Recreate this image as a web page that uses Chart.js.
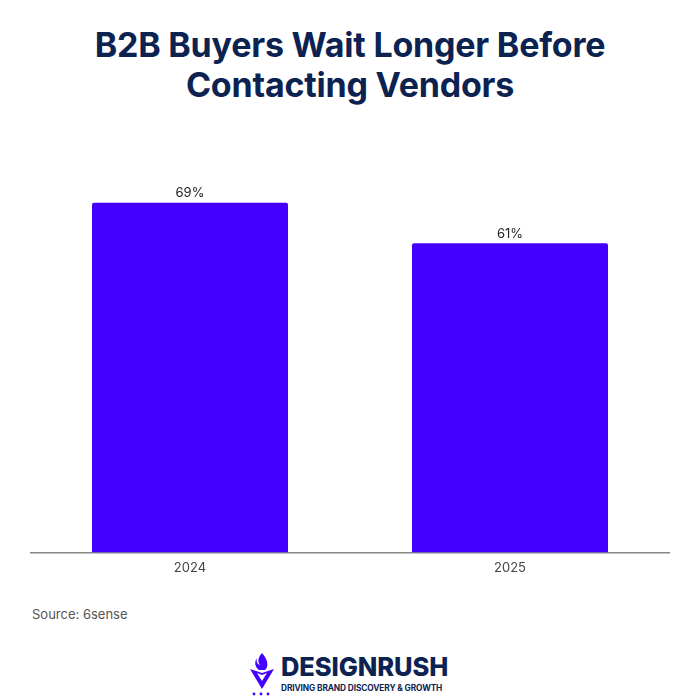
<!DOCTYPE html>
<html>
<head>
<meta charset="utf-8">
<script src="https://cdn.jsdelivr.net/npm/chart.js@4/dist/chart.umd.min.js"></script>
<style>
  body { margin: 0; background: #fff; }
  .page { position: relative; width: 700px; height: 700px; overflow: hidden; font-family: Inter, "Noto Sans", sans-serif; }
  .title { position: absolute; top: 25px; left: 0; width: 700px; text-align: center; color: #0c2251;
           font-family: Inter, sans-serif; font-weight: 700; font-size: 34px; line-height: 40px; letter-spacing: -0.2px; }
  .chartBox { position: absolute; left: 30px; top: 147px; width: 640px; height: 437px; }
  .source { position: absolute; left: 32px; top: 606px; font-size: 13px; color: #555; }
  .logo { position: absolute; left: 249px; top: 652px; width: 210px; height: 46px; }
  .logo .name { position: absolute; left: 32px; top: 0; font-weight: 800; font-size: 25.5px; color: #0c2251; letter-spacing: -0.1px; line-height: 30px; }
  .logo .tag { position: absolute; left: 32px; top: 31px; font-weight: 700; font-size: 8.3px; color: #0c2251; letter-spacing: -0.1px; white-space: nowrap; }
</style>
</head>
<body>
<div class="page">
  <div class="title">B2B Buyers Wait Longer Before<br>Contacting Vendors</div>
  <div class="chartBox"><canvas id="myChart"></canvas></div>
  <div class="source">Source: 6sense</div>
  <div class="logo">
    <svg width="26" height="46" viewBox="0 0 26 46" style="position:absolute;left:0;top:0">
      <path d="M13 1 C8 7 9 10 11 13 C8 12 7 9 8 6 C5 10 6 15 10 18 L16 18 C20 14 19 8 13 1 Z" fill="#4400ff"/>
      <path d="M1 17 L13 21 L25 17 L13 37 Z" fill="#4400ff"/>
      <path d="M8 21 L13 23 L18 21 L13 29 Z" fill="#ffffff"/>
      <circle cx="5" cy="42" r="1.4" fill="#4400ff"/>
      <circle cx="12" cy="42" r="1.4" fill="#4400ff"/>
      <circle cx="19" cy="42" r="1.4" fill="#4400ff"/>
    </svg>
    <div class="name">DESIGNRUSH</div>
    <div class="tag">DRIVING BRAND DISCOVERY &amp; GROWTH</div>
  </div>
</div>
<script>
const years = ["2024", "2025"];
const waitShare = [69, 61];
const valueLabels = ["69%", "61%"];

// writes the percentage above each bar
const barLabels = {
  id: 'barLabels',
  afterDatasetsDraw(chart) {
    const ctx = chart.ctx;
    const meta = chart.getDatasetMeta(0);
    ctx.save();
    ctx.font = '13px Inter, "Noto Sans", sans-serif';
    ctx.fillStyle = '#222';
    ctx.textAlign = 'center';
    ctx.textBaseline = 'bottom';
    meta.data.forEach((bar, i) => {
      ctx.fillText(valueLabels[i], bar.x, bar.y - 3);
    });
    ctx.restore();
  }
};

const ctx = document.getElementById('myChart').getContext('2d');
new Chart(ctx, {
  type: 'bar',
  data: {
    labels: years,
    datasets: [{
      data: waitShare,
      backgroundColor: '#4400ff',
      borderRadius: { topLeft: 2, topRight: 2 },
      borderSkipped: false,
      categoryPercentage: 1,
      barPercentage: 0.6125
    }]
  },
  options: {
    responsive: true,
    maintainAspectRatio: false,
    animation: false,
    layout: { padding: 0 },
    plugins: { legend: { display: false }, tooltip: { enabled: false } },
    scales: {
      x: {
        grid: { display: false, drawTicks: false },
        border: { display: true, color: '#888', width: 1.5 },
        ticks: { color: '#444', font: { family: 'Inter, "Noto Sans", sans-serif', size: 13 }, padding: 8 }
      },
      y: {
        display: false,
        min: 0,
        max: 80
      }
    }
  },
  plugins: [barLabels]
});
</script>
</body>
</html>
